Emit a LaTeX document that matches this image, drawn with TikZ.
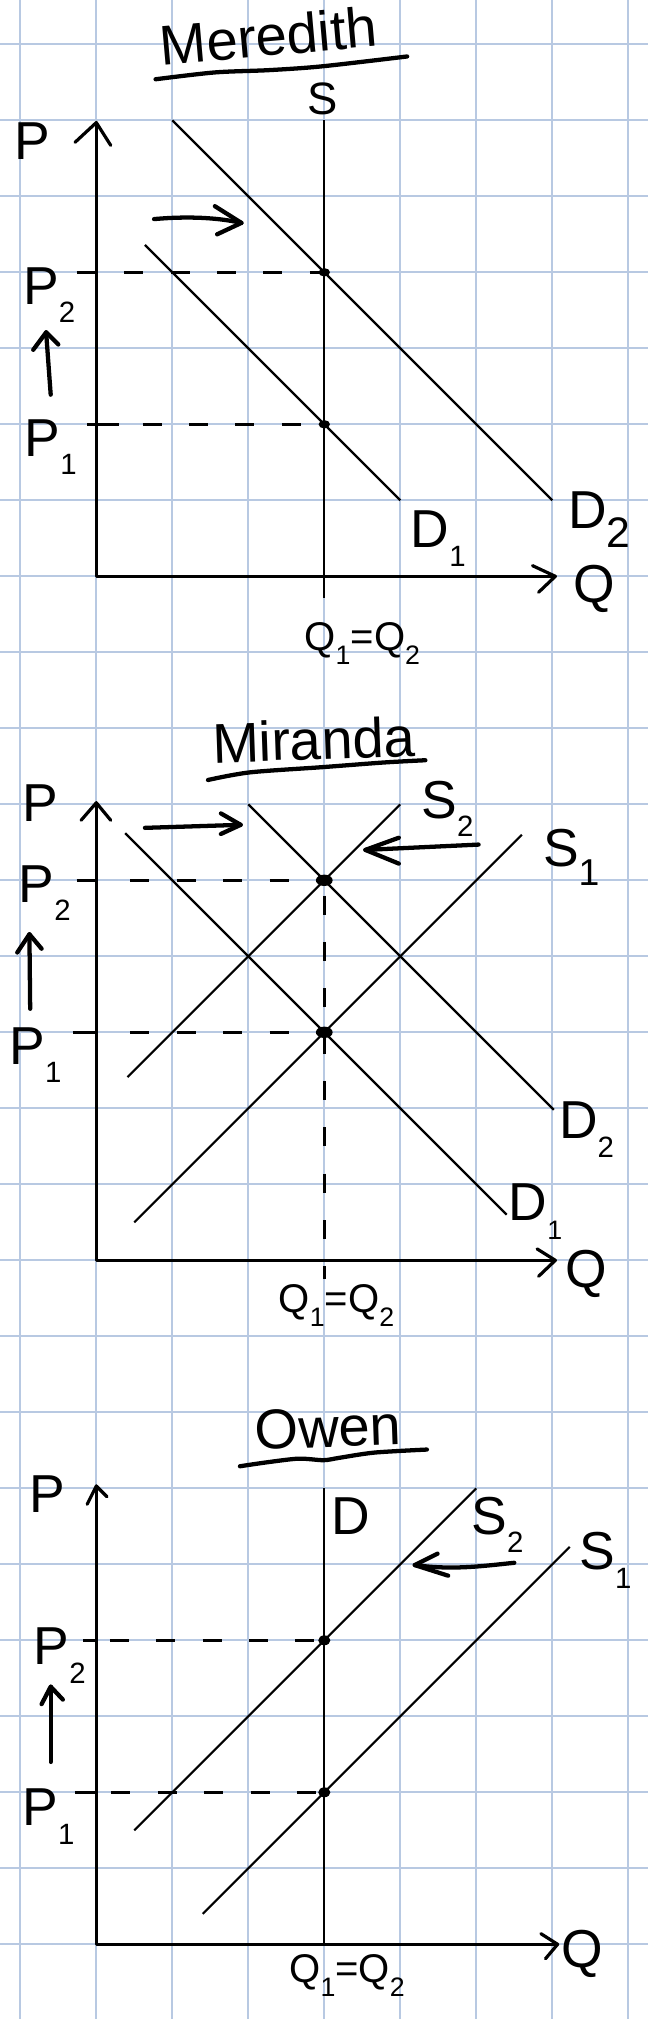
\documentclass[tikz,border=0pt]{standalone}
\usepackage{fontspec}
\setmainfont{Liberation Sans}
\definecolor{gridblue}{RGB}{184,201,226}
\newcommand\lsub[2][11]{\raisebox{-0.35em}{\fontsize{#1}{#1}\selectfont #2}}
\begin{document}
\begin{tikzpicture}[x=1cm,y=-1cm,
  gridln/.style={draw=gridblue,line width=0.75pt},
  curve/.style={draw=black,line width=0.8pt},
  axisln/.style={draw=black,line width=1.2pt,line cap=round,line join=round},
  hand/.style={draw=black,line width=1.6pt,line cap=round,line join=round},
  dashln/.style={draw=black,line width=0.9pt,dash pattern=on 0.25cm off 0.36cm},
  tickln/.style={draw=black,line width=1.0pt},
  lbl/.style={inner sep=0pt,font=\fontsize{20}{24}\selectfont},
  qlbl/.style={inner sep=0pt,font=\fontsize{15}{18}\selectfont},
  ttl/.style={inner sep=0pt,anchor=base,font=\fontsize{21}{25}\selectfont}]

\useasboundingbox (-0.2671,-0.5829) rectangle (8.2592,25.983);
\fill[white] (-0.2671,-0.5829) rectangle (8.2592,25.983);
\foreach \i in {0,...,8} \draw[gridln] (\i,-0.5829) -- (\i,25.983);
\foreach \k in {0,...,25} \draw[gridln] (-0.2671,\k) -- (8.2592,\k);

% ================= Meredith =================
\node[ttl,rotate=5] (t1) at (3.29,0.15) {Meredith};
\draw[hand] plot[smooth] coordinates {(1.78,0.46) (2.56,0.37) (3.27,0.34) (3.97,0.29) (5.09,0.16)};

\coordinate (aO) at (1,7);
\coordinate (aY) at (1,1.03);
\coordinate (aX) at (7.04,7);
\draw[axisln] (aY) -- (aO) -- (aX);
\draw[axisln] (aY) ++(-0.28,0.26) -- (aY) -- ++(0.19,0.30);
\draw[axisln] (aX) ++(-0.30,-0.14) -- (aX) -- ++(-0.22,0.21);
\node[lbl] (aP) at (0.16,1.27) {P};
\node[lbl] (aQ) at (7.55,7.17) {Q};

\coordinate (aSt) at (4,1);
\coordinate (aSb) at (4,7.28);
\draw[curve] (aSt) -- (aSb);
\node[lbl,font=\fontsize{17}{20}\selectfont] (aS) at (3.98,0.72) {S};

\coordinate (aD2a) at (2,1);
\coordinate (aD2b) at (7,6);
\coordinate (aD1a) at (1.64,2.64);
\coordinate (aD1b) at (5,6);
\draw[curve] (aD2a) -- (aD2b);
\draw[curve] (aD1a) -- (aD1b);

\coordinate (aE2) at (4,3);
\coordinate (aE1) at (4,5);
\coordinate (aT2a) at (0.74,3);
\coordinate (aT2b) at (1.02,3);
\coordinate (aT2c) at (1.37,3);
\coordinate (aT1a) at (0.88,5);
\coordinate (aT1b) at (1.30,5);
\coordinate (aT1c) at (1.61,5);
\draw[tickln] (aT2a) -- (aT2b);
\draw[dashln] (aT2c) -- (aE2);
\draw[tickln] (aT1a) -- (aT1b);
\draw[dashln] (aT1c) -- (aE1);
\fill (aE2) ellipse (0.075 and 0.055);
\fill (aE1) ellipse (0.075 and 0.055);

\coordinate (aRa) at (1.76,2.30);
\coordinate (aRb) at (2.91,2.35);
\draw[hand] (aRa) .. controls (2.2,2.26) and (2.6,2.28) .. (aRb);
\draw[hand] (aRb) ++(-0.35,-0.22) -- (aRb) -- ++(-0.32,0.15);

\coordinate (aUa) at (0.40,4.61);
\coordinate (aUb) at (0.34,3.79);
\draw[hand] (aUa) -- (aUb);
\draw[hand] (aUb) ++(-0.17,0.23) -- (aUb) -- ++(0.16,0.16);

\node[lbl] (aP2) at (0.38,3.30) {P\lsub{2}};
\node[lbl] (aP1) at (0.40,5.30) {P\lsub{1}};
\node[lbl] (aD1) at (5.50,6.50) {D\lsub{1}};
\node[lbl] (aD2) at (7.62,6.25) {D\lsub[16]{2}};
\node[qlbl] (aQQ) at (4.50,7.88) {Q\lsub[10]{1}=Q\lsub[10]{2}};

% ================= Miranda =================
\node[ttl,rotate=2] (t2) at (3.87,9.41) {Miranda};
\draw[hand] plot[smooth] coordinates {(2.47,9.68) (3.02,9.58) (3.99,9.51) (4.78,9.45) (5.33,9.42)};

\coordinate (bO) at (1,16);
\coordinate (bY) at (1,9.98);
\coordinate (bX) at (7.04,16);
\draw[axisln] (bY) -- (bO) -- (bX);
\draw[axisln] (bY) ++(-0.20,0.23) -- (bY) -- ++(0.19,0.23);
\draw[axisln] (bX) ++(-0.24,-0.15) -- (bX) -- ++(-0.22,0.21);
\node[lbl] (bP) at (0.26,9.98) {P};
\node[lbl] (bQ) at (7.45,16.18) {Q};

\coordinate (bS2a) at (1.41,13.59);
\coordinate (bS2b) at (5,10);
\coordinate (bS1a) at (1.5,15.5);
\coordinate (bS1b) at (6.6,10.4);
\coordinate (bD1a) at (1.38,10.38);
\coordinate (bD1b) at (6.4,15.4);
\coordinate (bD2a) at (3,10);
\coordinate (bD2b) at (7.02,14.02);
\draw[curve] (bS2a) -- (bS2b);
\draw[curve] (bS1a) -- (bS1b);
\draw[curve] (bD1a) -- (bD1b);
\draw[curve] (bD2a) -- (bD2b);

\coordinate (bE2) at (4,11);
\coordinate (bE1) at (4,13);
\coordinate (bVb) at (4,16.25);
\coordinate (bVa) at (4,11.2);
\draw[dashln] (bVa) -- (bVb);
\coordinate (bT2a) at (0.74,11);
\coordinate (bT2b) at (1.02,11);
\coordinate (bT2c) at (1.45,11);
\coordinate (bT1a) at (0.69,13);
\coordinate (bT1b) at (1.02,13);
\coordinate (bT1c) at (1.45,13);
\draw[tickln] (bT2a) -- (bT2b);
\draw[dashln] (bT2c) -- (bE2);
\draw[tickln] (bT1a) -- (bT1b);
\draw[dashln] (bT1c) -- (bE1);
\fill (bE2) ellipse (0.11 and 0.075);
\fill (bE1) ellipse (0.11 and 0.075);

\coordinate (bRa) at (1.64,10.31);
\coordinate (bRb) at (2.90,10.27);
\draw[hand] (bRa) -- (bRb);
\draw[hand] (bRb) ++(-0.26,-0.15) -- (bRb) -- ++(-0.26,0.12);

\coordinate (bLa) at (6.03,10.53);
\coordinate (bLb) at (4.54,10.60);
\draw[hand] (bLa) -- (bLb);
\draw[hand] (bLb) ++(0.44,-0.16) -- (bLb) -- ++(0.44,0.18);

\coordinate (bUa) at (0.13,12.69);
\coordinate (bUb) at (0.12,11.71);
\draw[hand] (bUa) -- (bUb);
\draw[hand] (bUb) ++(-0.16,0.24) -- (bUb) -- ++(0.16,0.19);

\node[lbl] (bS2) at (5.62,10.06) {S\lsub{2}};
\node[lbl] (bS1) at (7.25,10.70) {S\lsub[14]{1}};
\node[lbl] (bP2) at (0.32,11.17) {P\lsub{2}};
\node[lbl] (bP1) at (0.20,13.30) {P\lsub{1}};
\node[lbl] (bD2) at (7.45,14.28) {D\lsub{2}};
\node[lbl] (bD1) at (6.78,15.36) {D\lsub[10]{1}};
\node[qlbl] (bQQ) at (4.16,16.60) {Q\lsub[10]{1}=Q\lsub[10]{2}};

% ================= Owen =================
\node[ttl,rotate=2] (t3) at (4.06,18.46) {Owen};
\draw[hand] plot[smooth] coordinates {(2.89,18.71) (3.23,18.66) (3.66,18.61) (3.99,18.63) (4.19,18.60) (4.66,18.53) (5.35,18.49)};

\coordinate (cO) at (1,25);
\coordinate (cY) at (1,18.97);
\coordinate (cX) at (7.07,25);
\draw[axisln] (cY) -- (cO) -- (cX);
\draw[axisln] (cY) ++(-0.12,0.24) -- (cY) -- ++(0.14,0.14);
\draw[axisln] (cX) ++(-0.22,-0.14) -- (cX) -- ++(-0.16,0.19);
\node[lbl] (cP) at (0.36,19.08) {P};
\node[lbl] (cQ) at (7.39,25.13) {Q};

\coordinate (cDt) at (4,19);
\coordinate (cDb) at (4,25);
\draw[curve] (cDt) -- (cDb);
\node[lbl] (cD) at (4.35,19.36) {D};

\coordinate (cS2a) at (1.5,23.5);
\coordinate (cS2b) at (6,19);
\coordinate (cS1a) at (2.4,24.6);
\coordinate (cS1b) at (7.23,19.77);
\draw[curve] (cS2a) -- (cS2b);
\draw[curve] (cS1a) -- (cS1b);

\coordinate (cE2) at (4,21);
\coordinate (cE1) at (4,23);
\coordinate (cT2a) at (0.83,21);
\coordinate (cT2b) at (1.02,21);
\coordinate (cT2c) at (1.18,21);
\coordinate (cT1a) at (0.72,23);
\coordinate (cT1b) at (1.02,23);
\coordinate (cT1c) at (1.20,23);
\draw[tickln] (cT2a) -- (cT2b);
\draw[dashln] (cT2c) -- (cE2);
\draw[tickln] (cT1a) -- (cT1b);
\draw[dashln] (cT1c) -- (cE1);
\fill (cE2) ellipse (0.08 and 0.065);
\fill (cE1) ellipse (0.08 and 0.065);

\coordinate (cLa) at (6.50,19.98);
\coordinate (cLb) at (5.19,20.01);
\draw[hand] (cLa) .. controls (6.1,20.02) and (5.7,20.08) .. (cLb);
\draw[hand] (cLb) ++(0.30,-0.15) -- (cLb) -- ++(0.44,0.14);

\coordinate (cUa) at (0.40,22.60);
\coordinate (cUb) at (0.40,21.61);
\draw[hand] (cUa) -- (cUb);
\draw[hand] (cUb) ++(-0.12,0.23) -- (cUb) -- ++(0.16,0.17);

\node[lbl] (cS2) at (6.28,19.48) {S\lsub{2}};
\node[lbl] (cS1) at (7.70,19.95) {S\lsub{1}};
\node[lbl] (cP2) at (0.52,21.20) {P\lsub{2}};
\node[lbl] (cP1) at (0.37,23.32) {P\lsub{1}};
\node[qlbl] (cQQ) at (4.30,25.41) {Q\lsub[10]{1}=Q\lsub[10]{2}};
\end{tikzpicture}
\end{document}
